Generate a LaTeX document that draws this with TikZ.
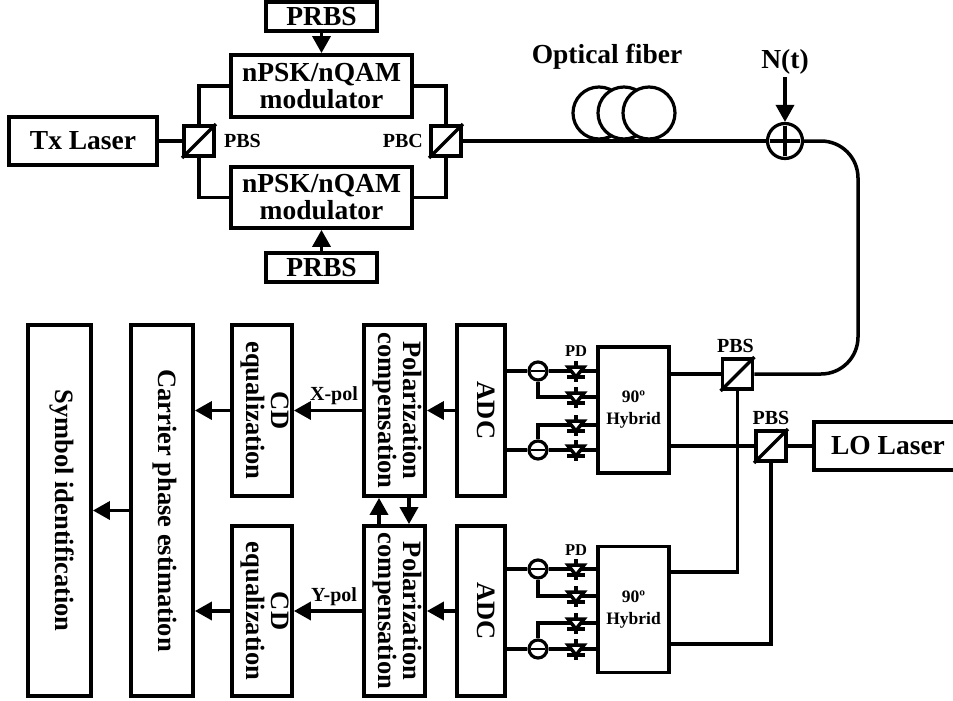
\documentclass[tikz,border=0pt]{standalone}
\usepackage{fontspec}
\setmainfont{Liberation Serif}
\usetikzlibrary{arrows.meta,positioning,calc}
\newcommand{\vtext}[1]{\hspace*{4pt}\rotatebox{-90}{\begin{tabular}{@{}c@{}}#1\end{tabular}}}

\begin{document}
\begin{tikzpicture}[
  x=1pt, y=-1pt,
  box/.style={draw, line width=3.8pt, inner sep=0pt, align=center, font=\fontsize{27.5}{27}\selectfont\bfseries},
  vbox/.style={box, font=\fontsize{26.5}{23}\selectfont\bfseries},
  splitter/.style={draw, line width=3.8pt, minimum size=30pt, inner sep=0pt},
  lbl/.style={inner sep=1pt, font=\fontsize{20}{20}\selectfont\bfseries},
  pdlbl/.style={inner sep=0pt, font=\fontsize{16.5}{16.5}\selectfont\bfseries},
  hybrid/.style={box, minimum width=71pt, minimum height=126pt, font=\fontsize{17.5}{22}\selectfont\bfseries},
  coil/.style={circle, draw, fill=white, line width=3.2pt, minimum size=52pt, inner sep=0pt},
  subtr/.style={circle, draw, fill=white, line width=3.2pt, minimum size=18pt, inner sep=0pt},
  wire/.style={line width=3.5pt},
  arr/.style={-{Triangle[length=17pt,width=18pt]}, line width=3.5pt},
  diode/.pic={
    \draw[wire] (0,-10) -- (0,11);
    \draw[wire, fill=white] (-8,-4) -- (8,-4) -- (0,6) -- cycle;
    \draw[wire] (-9,6) -- (9,6);
  },
]
\useasboundingbox (0,0) rectangle (953,701);

\node[box, minimum width=148pt, minimum height=48pt] (txlaser) at (83,141) {Tx Laser};
\node[splitter] (pbsa) at (199,141) {};
\node[splitter] (pbc) at (446,141) {};
\node[box, minimum width=181pt, minimum height=62pt] (modu) at (321.5,86) {nPSK/nQAM\\modulator};
\node[box, minimum width=181pt, minimum height=61pt] (modd) at (321.5,197.5) {nPSK/nQAM\\modulator};
\node[box, minimum width=111pt, minimum height=29pt] (prbsu) at (321.5,16.5) {PRBS};
\node[box, minimum width=111pt, minimum height=29pt] (prbsd) at (321.5,267.5) {PRBS};
\node[lbl, right=7pt of pbsa] (pbsalbl) {PBS};
\node[lbl, left=5pt of pbc] (pbclbl) {PBC};

\foreach \cx [count=\ci] in {599,624,649}
  \node[coil] (coil\ci) at (\cx,113) {};
\node[box, draw=none] (fiberlbl) at (607,57) {Optical fiber};
\node[circle, draw, line width=3.2pt, minimum size=35pt, inner sep=0pt] (adder) at (785,141) {};
\node[box, draw=none, inner sep=1pt] (noise) at (785,62) {N(t)};
\coordinate (fibc) at (858,258);

\node[splitter] (pbsu) at (737.5,374) {};
\node[splitter] (pbsl) at (771,446) {};
\node[lbl, above=3pt of pbsu, xshift=-2pt] (pbsulbl) {PBS};
\node[lbl, above=3pt of pbsl] (pbsllbl) {PBS};
\node[box, minimum width=148pt, minimum height=48pt] (lolaser) at (888,446) {LO Laser};

\node[hybrid] (hybu) at (633.5,410) {90º\\Hybrid};
\node[hybrid] (hybd) at (633.5,609.5) {90º\\Hybrid};
\coordinate (hybdo) at (669,572);
\coordinate (hybdt) at (669,644);
\node[pdlbl] (pdu) at (576,351) {PD};
\node[pdlbl] (pdd) at (576,550) {PD};

\node[subtr] (subua) at (538,371) {};
\node[subtr] (subub) at (538,450) {};
\node[subtr] (subda) at (538,569) {};
\node[subtr] (subdb) at (538,649) {};
\foreach \nm/\ypos in {ua/371,ub/397,uc/425,ud/450,da/569,db/596,dc/623,dd/649}
  \coordinate (pd\nm) at (576,\ypos);

\node[vbox, minimum width=48pt, minimum height=171pt] (adcu) at (481,410.5) {\vtext{ADC}};
\node[vbox, minimum width=48pt, minimum height=170pt] (adcd) at (481,611) {\vtext{ADC}};
\node[vbox, minimum width=61pt, minimum height=171pt] (polu) at (394.5,410.5) {\vtext{Polarization\\compensation}};
\node[vbox, minimum width=61pt, minimum height=170pt] (pold) at (394.5,611) {\vtext{Polarization\\compensation}};
\node[vbox, minimum width=60pt, minimum height=171pt] (cdu) at (262,410.5) {\vtext{CD\\equalization}};
\node[vbox, minimum width=60pt, minimum height=170pt] (cdd) at (262,611) {\vtext{CD\\equalization}};
\node[vbox, minimum width=62pt, minimum height=371pt] (carrier) at (162,510.5) {\vtext{Carrier phase estimation}};
\node[vbox, minimum width=63pt, minimum height=371pt] (symbol) at (59.5,510.5) {\vtext{Symbol identification}};
\node[lbl] (xpol) at (334,396) {X-pol};
\node[lbl] (ypol) at (334,597) {Y-pol};

\draw[wire] (pbsa.south west) -- (pbsa.north east);
\draw[wire] (pbc.south west) -- (pbc.north east);
\draw[wire] (pbsu.south west) -- (pbsu.north east);
\draw[wire] (pbsl.south west) -- (pbsl.north east);

\draw[wire] (txlaser) -- (pbsa);
\draw[wire] (pbsa.north) |- (modu.west);
\draw[wire] (pbsa.south) |- (modd.west);
\draw[wire] (modu.east) -| (pbc.north);
\draw[wire] (modd.east) -| (pbc.south);
\draw[arr] (prbsu) -- (modu);
\draw[arr] (prbsd) -- (modd);

\draw[wire] (pbc) -- (adder);
\draw[arr] (noise) -- (adder);
\draw[wire, shorten <=4pt, shorten >=4pt] (adder.west) -- (adder.east);
\draw[wire, shorten <=4pt, shorten >=4pt] (adder.north) -- (adder.south);
\draw[wire, rounded corners=37pt] (adder.east) -| (fibc) |- (pbsu.east);

\draw[wire] (pbsl) -- (lolaser);
\draw[wire] (pbsu.west) -- (pbsu.west -| hybu.east);
\draw[wire] (pbsl.west) -- (pbsl.west -| hybu.east);
\draw[wire] (pbsu.south) |- (hybdo);
\draw[wire] (pbsl.south) |- (hybdt);

\draw[wire] (subua) -- (subua -| adcu.east);
\draw[wire] (subub) -- (subub -| adcu.east);
\draw[wire] (subda) -- (subda -| adcd.east);
\draw[wire] (subdb) -- (subdb -| adcd.east);
\draw[wire] (subua) -- (subua -| hybu.west);
\draw[wire] (subub) -- (subub -| hybu.west);
\draw[wire] (subda) -- (subda -| hybd.west);
\draw[wire] (subdb) -- (subdb -| hybd.west);
\draw[wire] (subua.south) |- (pdub -| hybu.west);
\draw[wire] (subub.north) |- (pduc -| hybu.west);
\draw[wire] (subda.south) |- (pddb -| hybd.west);
\draw[wire] (subdb.north) |- (pddc -| hybd.west);
\foreach \nd in {subua,subub,subda,subdb}
  \draw[line width=2pt, shorten <=4pt, shorten >=4pt] (\nd.west) -- (\nd.east);
\foreach \nm in {ua,ub,uc,ud,da,db,dc,dd}
  \pic at (pd\nm) {diode};

\draw[arr] (adcu) -- (polu);
\draw[arr] (adcd) -- (pold);
\draw[arr] (polu) -- (cdu);
\draw[arr] (pold) -- (cdd);
\draw[arr] (cdu.west) -- (cdu.west -| carrier.east);
\draw[arr] (cdd.west) -- (cdd.west -| carrier.east);
\draw[arr] (carrier) -- (symbol);
\draw[arr] ([xshift=-15.5pt]pold.north) -- ([xshift=-15.5pt]polu.south);
\draw[arr] ([xshift=14.5pt]polu.south) -- ([xshift=14.5pt]pold.north);
\end{tikzpicture}
\end{document}
